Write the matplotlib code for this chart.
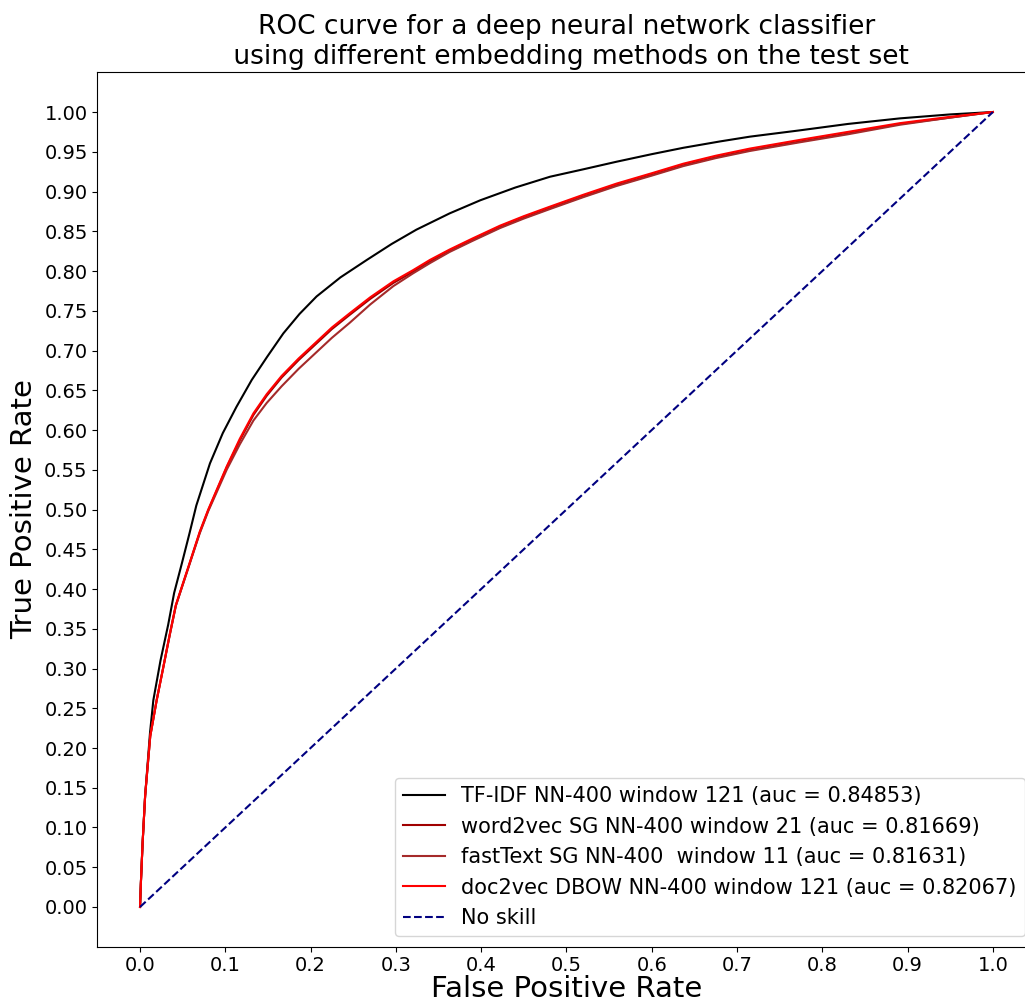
import numpy as np
import matplotlib
matplotlib.use('Agg')
import matplotlib.pyplot as plt

# ROC points (fpr, tpr)
tfidf_fpr = [0, 0.001, 0.003, 0.006, 0.0117, 0.0156, 0.024, 0.033, 0.040, 0.049,
             0.058, 0.066, 0.082, 0.097, 0.113, 0.131, 0.149, 0.168, 0.187, 0.207,
             0.235, 0.266, 0.295, 0.324, 0.363, 0.399, 0.44, 0.4807, 0.52, 0.5588,
             0.60, 0.637, 0.68, 0.715, 0.774, 0.83, 0.891, 0.95, 1.0]
tfidf_tpr = [0, 0.03, 0.08, 0.14, 0.219, 0.26, 0.31, 0.355, 0.395, 0.432,
             0.470, 0.505, 0.558, 0.596, 0.629, 0.663, 0.692, 0.7215, 0.746, 0.768,
             0.792, 0.814, 0.834, 0.852, 0.8725, 0.889, 0.905, 0.9186, 0.928, 0.9375,
             0.947, 0.955, 0.963, 0.969, 0.977, 0.985, 0.992, 0.997, 1.0]

emb_fpr = [0, 0.001, 0.003, 0.006, 0.012, 0.0195, 0.027, 0.035, 0.042, 0.0567,
           0.070, 0.080, 0.090, 0.1016, 0.117, 0.133, 0.1485, 0.166, 0.186, 0.207,
           0.225, 0.246, 0.27, 0.297, 0.32, 0.34, 0.363, 0.39, 0.422, 0.45,
           0.4807, 0.52, 0.5588, 0.60, 0.637, 0.675, 0.715, 0.774, 0.83, 0.891,
           0.95, 1.0]

w2v_tpr = [0, 0.03, 0.08, 0.14, 0.215, 0.26, 0.30, 0.343, 0.379, 0.427,
           0.471, 0.499, 0.524, 0.553, 0.587, 0.619, 0.643, 0.666, 0.688, 0.709,
           0.727, 0.745, 0.765, 0.785, 0.799, 0.812, 0.825, 0.839, 0.855, 0.867,
           0.879, 0.894, 0.908, 0.921, 0.933, 0.943, 0.952, 0.963, 0.973, 0.985,
           0.993, 1.0]

ft_tpr = [0, 0.03, 0.08, 0.14, 0.215, 0.26, 0.30, 0.343, 0.379, 0.427,
          0.470, 0.498, 0.522, 0.550, 0.582, 0.612, 0.634, 0.655, 0.677, 0.698,
          0.716, 0.735, 0.758, 0.781, 0.797, 0.810, 0.824, 0.838, 0.854, 0.866,
          0.878, 0.893, 0.907, 0.920, 0.932, 0.942, 0.951, 0.962, 0.972, 0.984,
          0.993, 1.0]

d2v_tpr = [0, 0.03, 0.08, 0.14, 0.215, 0.26, 0.30, 0.344, 0.38, 0.428,
           0.472, 0.50, 0.525, 0.554, 0.589, 0.621, 0.645, 0.668, 0.690, 0.711,
           0.729, 0.747, 0.767, 0.787, 0.801, 0.814, 0.827, 0.841, 0.857, 0.869,
           0.881, 0.896, 0.910, 0.923, 0.935, 0.945, 0.954, 0.965, 0.975, 0.986,
           0.994, 1.0]

labels = ['TF-IDF NN-400 window 121 (auc = 0.84853)',
          'word2vec SG NN-400 window 21 (auc = 0.81669)',
          'fastText SG NN-400  window 11 (auc = 0.81631)',
          'doc2vec DBOW NN-400 window 121 (auc = 0.82067)']

fig = plt.figure(figsize=(10.25, 10.01), dpi=100)
ax = fig.add_axes([0.0950, 0.0542, 0.9153, 0.8736])

ax.plot(tfidf_fpr, tfidf_tpr, c='black', lw=1.5, label=labels[0])
ax.plot(emb_fpr, w2v_tpr, c='#a00000', lw=1.5, label=labels[1])
ax.plot(emb_fpr, ft_tpr, c='brown', lw=1.5, label=labels[2])
ax.plot(emb_fpr, d2v_tpr, c='red', lw=1.5, label=labels[3])
ax.plot([0, 1], [0, 1], c='navy', ls='--', lw=1.5, label='No skill')

ax.set_xlim(-0.05, 1.05)
ax.set_ylim(-0.05, 1.05)
ax.set_xticks(np.arange(0, 1.01, 0.1))
ax.set_xticklabels(['%.1f' % v for v in np.arange(0, 1.01, 0.1)], fontsize=14)
ax.set_yticks(np.arange(0, 1.001, 0.05))
ax.set_yticklabels(['%.2f' % v for v in np.arange(0, 1.001, 0.05)], fontsize=14)
ax.set_xlabel('False Positive Rate', fontsize=21, labelpad=0)
ax.set_ylabel('True Positive Rate', fontsize=21)
ax.set_title('ROC curve for a deep neural network classifier\n using different embedding methods on the test set',
             fontsize=19)
ax.legend(loc='lower right', fontsize=15)

plt.savefig('out.png', dpi=100)
